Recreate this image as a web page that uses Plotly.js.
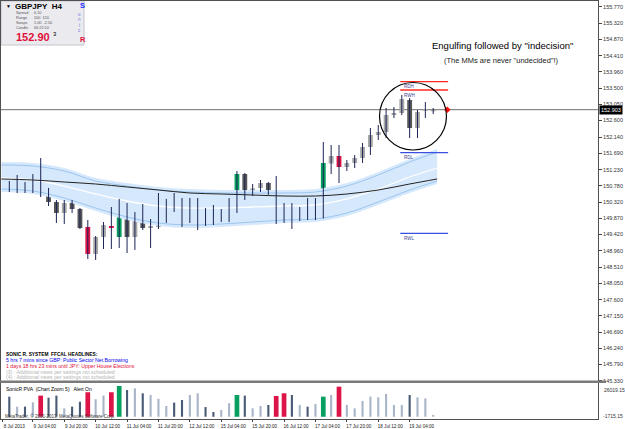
<!DOCTYPE html>
<html><head><meta charset="utf-8">
<script src="https://cdn.plot.ly/plotly-3.0.1.min.js"></script>
<style>html,body{margin:0;padding:0;background:#fff}#chart{width:625px;height:429px}</style>
</head><body><div id="chart"></div>
<script>
// ---------------- DATA (GBPJPY H4) ----------------
const opens  = [150.800,150.745,150.828,150.689,150.996,150.689,150.326,150.019,150.298,150.130,
                149.628,148.874,149.349,149.656,149.349,150.214,149.349,149.991,149.600,149.628,
                150.186,150.410,150.186,149.851,150.033,150.075,150.158,149.963,150.061,150.130,
                151.107,150.661,150.717,150.856,150.633,149.935,149.907,149.851,150.158,150.047,
                150.130,151.401,151.610,151.303,151.415,151.554,151.861,152.196,152.280,152.755,
                152.810,153.173,152.392,152.880,152.866];
const highs  = [150.912,151.080,150.884,151.107,151.554,150.717,150.382,150.382,150.382,150.158,
                149.823,149.377,149.767,150.186,150.410,150.298,150.047,150.270,149.851,150.577,
                150.410,150.577,150.437,150.437,150.437,150.158,150.242,150.130,150.437,151.191,
                151.135,150.828,150.940,150.884,151.052,150.298,150.298,150.186,150.437,150.437,
                152.001,151.917,151.917,151.498,151.638,151.973,152.392,152.475,152.950,152.978,
                153.313,153.229,152.894,153.117,152.950];
const lows   = [150.605,150.577,150.577,150.577,150.465,150.214,149.740,149.712,150.019,149.572,
                148.735,148.707,149.014,149.014,149.042,148.902,148.986,149.544,149.042,149.572,
                149.740,150.047,149.628,149.740,149.544,149.656,149.684,149.767,149.767,150.019,
                150.382,150.493,150.605,150.521,149.712,149.740,149.572,149.795,149.823,149.823,
                149.865,151.107,150.856,151.191,151.275,151.415,151.638,152.057,152.112,152.671,
                152.755,152.112,152.112,152.671,152.782];
const closes = [150.717,150.856,150.689,150.968,150.689,150.326,150.019,150.298,150.130,149.600,
                148.874,149.349,149.684,149.600,150.214,149.349,149.991,149.600,149.656,150.186,
                150.410,150.186,149.879,150.047,150.075,149.823,149.963,150.075,150.130,151.107,
                150.661,150.703,150.856,150.605,149.935,149.893,149.851,150.158,150.047,150.130,
                151.415,151.610,151.303,151.415,151.554,151.861,152.196,152.280,152.755,152.810,
                153.201,152.392,152.838,152.908,152.894];
// PVA climax flag: 1 = bull climax (green), -1 = bear climax (red), 0 = normal
const pvaClimax = [0,0,0,0,-1,0,0,0,0,0,
                   -1,0,0,-1,1,0,0,0,0,0,
                   0,0,0,0,0,0,0,0,0,1,
                   0,0,0,0,-1,-1,0,0,0,0,
                   1,0,-1,0,0,0,0,0,0,0,
                   0,0,0,0,0];
const volumes = [15500,7800,7800,11200,16300,14700,16300,6500,7800,11600,
                 18900,13500,16300,18900,23700,20600,21900,18100,16800,13900,
                 8300,10900,12900,16800,18100,7500,3700,5200,10400,16800,
                 16300,6500,8300,9100,16000,18100,16800,9100,7800,9900,
                 15500,16800,23200,9100,6500,12200,15500,15000,17600,9100,
                 9100,16800,15000,14200,1400];
// Sonic R dragon (EMA34 high / close / low) and EMA89, read at bar positions
const bandIndex  = [-1,3,7,11,15,19,23,27,31,35,39,43,47,51,54.5];
const bandTop    = [151.442,151.415,151.275,150.996,150.856,150.745,150.689,150.661,150.661,150.661,150.689,150.856,151.163,151.526,151.805];
const bandUpper  = [151.359,151.331,151.191,150.912,150.772,150.661,150.605,150.577,150.577,150.577,150.605,150.772,151.080,151.442,151.722];
const bandMid    = [150.996,150.940,150.772,150.549,150.354,150.214,150.158,150.158,150.186,150.214,150.242,150.410,150.689,151.024,151.275];
const bandLower  = [150.689,150.633,150.437,150.158,149.907,149.740,149.684,149.712,149.767,149.823,149.851,150.019,150.326,150.661,150.912];
const bandBottom = [150.605,150.549,150.354,150.075,149.823,149.656,149.600,149.628,149.684,149.740,149.767,149.935,150.242,150.577,150.828];
const ema89      = [150.968,150.940,150.884,150.828,150.745,150.661,150.577,150.549,150.521,150.493,150.493,150.549,150.661,150.828,150.968];
// range levels
const levelNames  = ['RDH','RWH','RDL','RWL'];
const levelValues = [153.684,153.452,151.702,149.452];
const bidPrice = 152.903;
// axes
const priceTicks = [155.770,155.320,154.870,154.410,153.960,153.500,153.050,152.600,152.140,151.690,151.230,150.780,
                    150.320,149.870,149.420,148.960,148.510,148.050,147.600,147.150,146.690,146.240,145.790,145.330];
const dateTickIndex  = [-0.9,3,7,11,15,19,23,27,31,35,39,43,47,51];
const dateTickLabels = ['8 Jul 2013','9 Jul 04:00','9 Jul 20:00','10 Jul 12:00','11 Jul 04:00','11 Jul 20:00','12 Jul 12:00',
                        '15 Jul 04:00','15 Jul 20:00','16 Jul 12:00','17 Jul 04:00','17 Jul 20:00','18 Jul 12:00','19 Jul 04:00'];
const volMax = 26019.15, volMin = -1715.15;
const headlines = ['SONIC R. SYSTEM  FFCAL HEADLINES:',
                   '5 hrs 7 mins since GBP: Public Sector Net Borrowing',
                   '1 days 18 hrs 23 mins until JPY: Upper House Elections',
                   '(3) : Additional news per settings not scheduled',
                   '(4) : Additional news per settings not scheduled'];

// ---------------- LAYOUT GEOMETRY ----------------
const L=1, R=598, T=1, B=419;
const fx = p => (p-L)/(R-L);
const fy = p => (B-p)/(B-T);
const FONT = 'Liberation Sans, Arial, sans-serif';

const idx = opens.map((_, i) => i);
const last = idx.length - 1;
const isBull = i => closes[i] >= opens[i];

const COL = {lightBody:'#a8a8a8', darkBody:'#585858', wick:'#1c2454', red:'#dc1448', green:'#08a060',
             volLight:'#aab6c8', volDark:'#4a5b75'};

const traces = [];
// dragon band
traces.push({x:bandIndex, y:bandBottom, mode:'lines', line:{width:0, shape:'spline'}, hoverinfo:'skip', xaxis:'x', yaxis:'y'});
traces.push({x:bandIndex, y:bandTop, mode:'lines', line:{width:0, shape:'spline'}, fill:'tonexty', fillcolor:'#d6e8fb', hoverinfo:'skip', xaxis:'x', yaxis:'y'});
traces.push({x:bandIndex, y:bandUpper, mode:'lines', line:{width:1, color:'#9cc6ef', shape:'spline'}, hoverinfo:'skip', xaxis:'x', yaxis:'y'});
traces.push({x:bandIndex, y:bandLower, mode:'lines', line:{width:1, color:'#9cc6ef', shape:'spline'}, hoverinfo:'skip', xaxis:'x', yaxis:'y'});
traces.push({x:bandIndex, y:bandMid, mode:'lines', line:{width:1.3, color:'#ffffff', shape:'spline'}, hoverinfo:'skip', xaxis:'x', yaxis:'y'});
traces.push({x:bandIndex, y:ema89, mode:'lines', line:{width:1, color:'#222222', shape:'spline'}, hoverinfo:'skip', xaxis:'x', yaxis:'y'});

// wicks
const wx=[], wy=[];
idx.forEach(i => { wx.push(i,i,null); wy.push(lows[i], highs[i], null); });
traces.push({x:wx, y:wy, mode:'lines', line:{width:1, color:COL.wick}, hoverinfo:'skip', xaxis:'x', yaxis:'y'});

// bodies
function bodyTrace(filter, color) {
  const xs=[], bs=[], hs=[];
  idx.forEach(i => {
    if (!filter(i)) return;
    const lo = Math.min(opens[i], closes[i]), hi = Math.max(opens[i], closes[i]);
    let h = hi - lo, base = lo;
    const minH = 0.045;
    if (h < minH) { base = (lo+hi)/2 - minH/2; h = minH; }
    xs.push(i); bs.push(base); hs.push(h);
  });
  return {type:'bar', x:xs, y:hs, base:bs, width:0.62, marker:{color:color, line:{width:0}}, hoverinfo:'skip', xaxis:'x', yaxis:'y'};
}
traces.push(bodyTrace(i => pvaClimax[i]===0 && isBull(i), COL.lightBody));
traces.push(bodyTrace(i => pvaClimax[i]===0 && !isBull(i), COL.darkBody));
traces.push(bodyTrace(i => pvaClimax[i]===1, COL.green));
traces.push(bodyTrace(i => pvaClimax[i]===-1, COL.red));

// levels
levelNames.forEach((n, k) => {
  const isHigh = n.endsWith('H');
  traces.push({x:[last-4.2, last+1.9], y:[levelValues[k], levelValues[k]], mode:'lines',
    line:{width:1.3, color: isHigh ? '#ff2a1e' : '#3a50e0'}, hoverinfo:'skip', xaxis:'x', yaxis:'y'});
});
// bid marker
traces.push({x:[last+1.8], y:[bidPrice], mode:'markers', marker:{symbol:'diamond', size:5, color:'#ff1010'}, hoverinfo:'skip', xaxis:'x', yaxis:'y'});

// volume
function volTrace(filter, color, w) {
  const xs=[], ys=[];
  idx.forEach(i => { if (filter(i)) { xs.push(i); ys.push(volumes[i]); } });
  return {type:'bar', x:xs, y:ys, width:w, marker:{color:color, line:{width:0}}, hoverinfo:'skip', xaxis:'x2', yaxis:'y2'};
}
traces.push(volTrace(i => pvaClimax[i]===0 && isBull(i), COL.volLight, 0.27));
traces.push(volTrace(i => pvaClimax[i]===0 && !isBull(i), COL.volDark, 0.27));
traces.push(volTrace(i => pvaClimax[i]===1, COL.green, 0.6));
traces.push(volTrace(i => pvaClimax[i]===-1, COL.red, 0.6));

const xRange = [(L-9.3)/7.85, (R-9.3)/7.85];
const yRange = [155.965-0.027917*381, 155.965-0.027917*1];

const ann = [];
function txt(x, y, text, size, color, opts) {
  ann.push(Object.assign({xref:'paper', yref:'paper', x:fx(x), y:fy(y), text:text, showarrow:false,
    xanchor:'left', yanchor:'middle', font:{family:FONT, size:size, color:color}}, opts||{}));
}
// info panel
txt(4, 6, '▼', 5, '#000');
txt(13, 7, '<b>GBPJPY  H4</b>', 8, '#000');
txt(77.5, 5.5, '<b>S</b>', 7.5, '#1a2cff');
['o','n','i','c'].forEach((c, k) => txt(79.5, 14.5 + k*5.3, c, 4.5, '#6f70e0', {xanchor:'center'}));
txt(77.5, 39, '<b>R</b>', 7.5, '#e0103c');
[['Spread','0.10'],['Range','100  120'],['Swaps','1.00  -2.50'],['Candle','00:22:10']].forEach((r, k) => {
  txt(14, 13 + k*5, r[0], 3.8, '#555');
  txt(32, 13 + k*5, r[1], 3.8, '#555');
});
txt(14, 37, '<b>152.90</b>', 11, '#e0103c');
txt(51, 34.5, '3', 6, '#000');
// comments
txt(502, 46, 'Engulfing followed by "indecision"', 9.5, '#000', {xanchor:'center'});
txt(501, 60, '(The MMs are never "undecided"!)', 7.5, '#222', {xanchor:'center'});
// headlines
const hlColors = ['#000','#0000ee','#e0103c','#b4b4b4','#b4b4b4'];
const hlY = [354, 360, 366, 371.5, 377];
headlines.forEach((h, k) => txt(3.5, hlY[k], k===0 ? '<b>'+h+'</b>' : h, k===0 ? 4.8 : 5.2, hlColors[k]));
txt(4, 388.5, 'SonicR PVA  (Chart Zoom 5)   Alert On', 5, '#000');
txt(3, 415.5, 'MetaTrader, © 2001-2013, MetaQuotes Software Corp.', 4.5, '#333');
// volume axis labels
txt(602, 390, volMax.toFixed(2), 5, '#333');
txt(601, 416, volMin.toFixed(2), 5, '#333');
// bid label
ann.push({xref:'paper', yref:'y', x:1, y:bidPrice, text:bidPrice.toFixed(3), showarrow:false, xanchor:'left', yanchor:'middle',
  xshift:1, bgcolor:'#000', borderpad:1, font:{family:FONT, size:5.5, color:'#fff'}});
// level labels
levelNames.forEach((n, k) => {
  ann.push({xref:'x', yref:'y', x:last-4.0, y:levelValues[k], text:n, showarrow:false, xanchor:'left', yanchor:'top',
    yshift:-0.5, font:{family:FONT, size:4.5, color:'#3a3a8a'}});
});

const shapes = [
  {type:'rect', xref:'paper', yref:'paper', x0:fx(1), x1:fx(84), y0:fy(1), y1:fy(45), fillcolor:'#ebebef', line:{color:'#c4c4cc', width:1}, layer:'below'},
  {type:'line', xref:'paper', yref:'y', x0:0, x1:1, y0:bidPrice, y1:bidPrice, line:{color:'#6e6e6e', width:1}, layer:'below'},
  {type:'circle', xref:'x', yref:'y', x0:47.16, x1:55.69, y0:151.777, y1:153.662, line:{color:'#000', width:1.2}},
  {type:'rect', xref:'paper', yref:'paper', x0:fx(0), x1:fx(606), y0:fy(383), y1:fy(380.5), fillcolor:'#7a7a7a', line:{width:0}}
];

const axisCommon = {showgrid:false, zeroline:false, showline:true, mirror:true, linecolor:'#505050', linewidth:1};
const layout = {
  width:625, height:429, margin:{l:L, r:625-R, t:T, b:429-B},
  paper_bgcolor:'#fff', plot_bgcolor:'rgba(0,0,0,0)', showlegend:false, barmode:'overlay',
  xaxis: Object.assign({}, axisCommon, {domain:[0,1], anchor:'y', range:xRange, showticklabels:false, ticks:''}),
  yaxis: Object.assign({}, axisCommon, {domain:[fy(381),1], anchor:'x', side:'right', range:yRange,
    tickvals:priceTicks, ticktext:priceTicks.map(v => v.toFixed(3)), ticks:'outside', ticklen:3, tickcolor:'#444',
    tickfont:{family:FONT, size:5.5, color:'#333'}}),
  xaxis2: Object.assign({}, axisCommon, {domain:[0,1], anchor:'y2', range:xRange,
    tickvals:dateTickIndex, ticktext:dateTickLabels, ticks:'outside', ticklen:2, tickcolor:'#444',
    ticklabelshift:12, ticklabelstandoff:0, tickfont:{family:FONT, size:4.6, color:'#222'}}),
  yaxis2: Object.assign({}, axisCommon, {domain:[0, fy(383)], anchor:'x2', side:'right', range:[volMin, volMax],
    showticklabels:false, ticks:''}),
  annotations: ann, shapes: shapes
};
Plotly.newPlot('chart', traces, layout, {displayModeBar:false, staticPlot:true});
</script>
</body></html>
